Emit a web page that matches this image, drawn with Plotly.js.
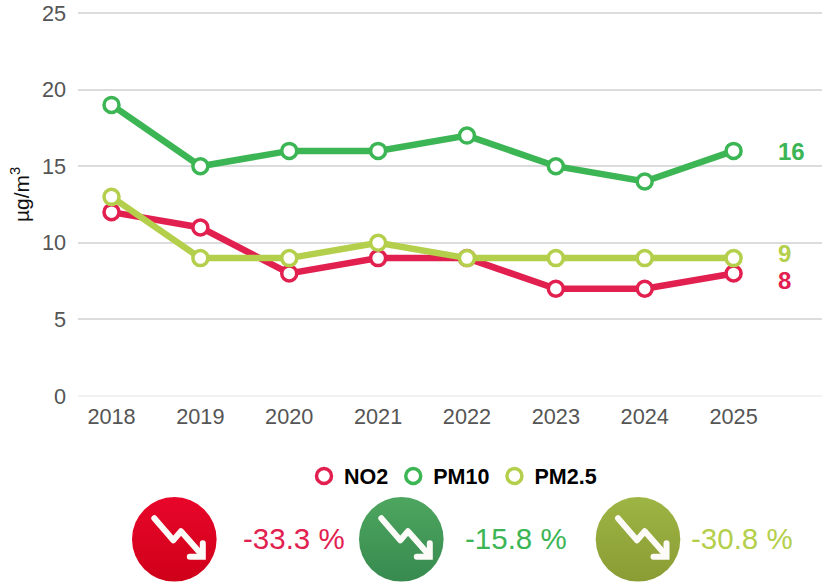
<!DOCTYPE html>
<html><head><meta charset="utf-8">
<script src="https://cdn.plot.ly/plotly-3.0.1.min.js"></script>
<style>html,body{margin:0;padding:0;background:#fff}#c{width:822px;height:585px}</style></head>
<body><div id="c"></div>
<script>
const years=['2018','2019','2020','2021','2022','2023','2024','2025'];
const no2=[12,11,8,9,9,7,7,8];
const pm10=[19,15,16,16,17,15,14,16];
const pm25=[13,9,9,10,9,9,9,9];
const names=['NO2','PM10','PM2.5'];
const colors=['#e2204f','#3cb554','#b4cf4b'];
const changes=['-33.3 %','-15.8 %','-30.8 %'];
const badgeTop=['#e8062a','#4da65f','#9db544'];
const badgeBottom=['#cf0019','#388a4f','#8a9c34'];
const badgeX=[174.3,401.3,638];
const changeX=[293.5,516,742];
const endY=[-7.5,-0.5,4.5];
const series=[no2,pm10,pm25];
const W=822,H=585,L=78,T=10,B=189;
const pw=W-L,ph=H-T-B;
const px=x=>(x-L)/pw, py=y=>(H-B-y)/ph;
const traces=[];
series.forEach((v,i)=>traces.push({x:years,y:v,type:'scatter',mode:'lines+markers',name:names[i],showlegend:false,
  hoverinfo:'x+y+name',cliponaxis:false,
  line:{color:colors[i],width:6.5},marker:{size:15,color:'#fff',line:{color:colors[i],width:3.5}}}));
series.forEach((v,i)=>traces.push({x:[null],y:[null],type:'scatter',mode:'markers',name:names[i],showlegend:true,
  marker:{size:15,color:'#fff',line:{color:colors[i],width:3.5}}}));
const badge=i=>'data:image/svg+xml;utf8,'+encodeURIComponent(
 `<svg xmlns="http://www.w3.org/2000/svg" width="88" height="88" viewBox="0 0 88 88"><defs><linearGradient id="g" x1="0" y1="0" x2="0" y2="1"><stop offset="0" stop-color="${badgeTop[i]}"/><stop offset="1" stop-color="${badgeBottom[i]}"/></linearGradient></defs><circle cx="44" cy="44" r="42.3" fill="url(#g)"/><path d="M24 23 L43 45 L50.700 36 L71 59" fill="none" stroke="#fdfbf8" stroke-width="6" stroke-linecap="round" stroke-linejoin="round"/><path d="M72.500 48 V61.500 H59.500" fill="none" stroke="#fdfbf8" stroke-width="6" stroke-linecap="round" stroke-linejoin="miter"/></svg>`);
const images=badgeX.map((x,i)=>({source:badge(i),xref:'paper',yref:'paper',x:px(x-44),y:py(495.3),sizex:88/pw,sizey:88/ph,xanchor:'left',yanchor:'top',sizing:'stretch',layer:'above'}));
const annotations=[];
series.forEach((v,i)=>annotations.push({x:px(776),xref:'paper',y:v[v.length-1],yref:'y',text:'<b>'+v[v.length-1]+'</b>',showarrow:false,
  yshift:endY[i],xanchor:'left',yanchor:'middle',font:{family:'Liberation Sans, Arial, sans-serif',size:24,color:colors[i]}}));
changes.forEach((t,i)=>annotations.push({x:px(changeX[i]),xref:'paper',y:py(538),yref:'paper',text:t,showarrow:false,xanchor:'center',yanchor:'middle',
  font:{family:'Liberation Sans, Arial, sans-serif',size:29.5,color:colors[i]}}));
annotations.push({x:px(20),xref:'paper',y:py(195),yref:'paper',text:'µg/m<sup>3</sup>',showarrow:false,textangle:-90,xanchor:'center',yanchor:'middle',
  font:{family:'Liberation Sans, Arial, sans-serif',size:21,color:'#111'}});
const layout={width:W,height:H,margin:{l:L,r:0,t:T,b:B,pad:0},paper_bgcolor:'#fff',plot_bgcolor:'#fff',
 font:{family:'Liberation Sans, Arial, sans-serif',color:'#555',size:22},
 showlegend:true,
 legend:{orientation:'h',x:px(453),xanchor:'center',y:py(476),yanchor:'middle',font:{size:21.5,color:'#000',weight:700},traceorder:'normal',itemwidth:30,bgcolor:'rgba(0,0,0,0)'},
 xaxis:{type:'category',range:[-0.377,7.995],showgrid:false,zeroline:false,showline:false,ticks:'',tickfont:{size:21.7,color:'#555'},ticklabelstandoff:5,fixedrange:true},
 yaxis:{range:[0,25.196],tickvals:[0,5,10,15,20,25],showgrid:true,gridcolor:'#dcdcdc',gridwidth:1.5,zeroline:true,zerolinecolor:'#f2f2f2',zerolinewidth:1.5,showline:false,ticks:'',tickfont:{size:21.7,color:'#555'},ticklabelstandoff:11,fixedrange:true},
 images,annotations,hovermode:'closest'};
Plotly.newPlot('c',traces,layout,{displayModeBar:false,responsive:false});
</script></body></html>
